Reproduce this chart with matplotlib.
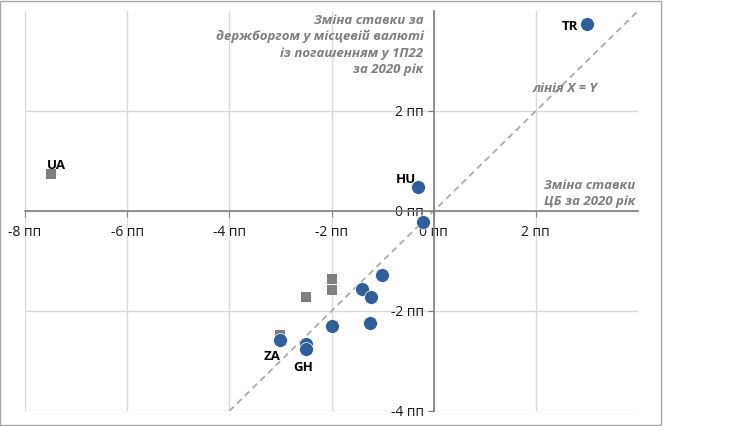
import matplotlib.pyplot as plt
from matplotlib.patches import Rectangle

plt.rcParams['font.family'] = ['Open Sans', 'DejaVu Sans']

# central bank rate change (x) vs local-currency gov bond yield change (y), pp
circle_x = [3.0, -0.30, -0.21, -1.01, -1.40, -1.23, -1.25, -1.99, -2.50, -2.50, -3.00]
circle_y = [3.74, 0.49, -0.21, -1.27, -1.55, -1.71, -2.23, -2.29, -2.65, -2.75, -2.58]
square_x = [-2.0, -2.0, -2.49, -3.0, -7.49]
square_y = [-1.35, -1.58, -1.71, -2.47, 0.75]

# labelled countries: (name, x, y, dx, dy, ha) offsets in points
labels = [
    ('TR', 3.0, 3.74, -6, -2, 'right'),
    ('HU', -0.30, 0.49, -2, 5, 'right'),
    ('UA', -7.49, 0.75, -3, 6, 'left'),
    ('ZA', -3.0, -2.58, 0, -12, 'right'),
    ('GH', -2.5, -2.75, -2, -14, 'center'),
]

ticks = [-8, -6, -4, -2, 0, 2]
yticks = [-4, -2, 0, 2]

blue = '#2F5E98'
gray = '#7F7F7F'

fig = plt.figure(figsize=(7.4, 4.26), dpi=100)
ax = fig.add_axes([25 / 740, 15 / 426, 613 / 740, 400 / 426])

ax.set_xlim(-8, 4)
ax.set_ylim(-4, 4)

ax.grid(True, color='#D9D9D9', linewidth=1)
ax.set_axisbelow(True)

# x = y line
ax.plot([-4, 4], [-4, 4], linestyle=(0, (3.5, 2.5)), color='#ABABAB',
        linewidth=1.3, zorder=2)

ax.scatter(square_x, square_y, marker='s', s=50, color=gray, zorder=3, linewidths=0)
ax.scatter(circle_x, circle_y, marker='o', s=100, color=blue, zorder=4,
           edgecolors='white', linewidths=0.5)

for name, x, y, dx, dy, ha in labels:
    ax.annotate(name, (x, y), xytext=(dx, dy), textcoords='offset points',
                ha=ha, va='center', fontsize=9.5, fontweight='bold', color='black')

for side in ['top', 'right']:
    ax.spines[side].set_visible(False)
ax.spines['left'].set_position(('data', 0))
ax.spines['bottom'].set_position(('data', 0))
for side in ['left', 'bottom']:
    ax.spines[side].set_color('#7F7F7F')
    ax.spines[side].set_linewidth(1.2)

ax.set_xticks(ticks)
ax.set_xticklabels([f'{t} пп' for t in ticks])
ax.set_yticks(yticks)
ax.set_yticklabels([f'{t} пп' for t in yticks])
ax.tick_params(axis='both', direction='out', length=4, color='#7F7F7F',
               labelsize=10, labelcolor='#1A1A1A', pad=3)
ax.tick_params(axis='x', pad=6)

ann = dict(fontsize=9.5, style='italic', fontweight='bold', color='#7F7F7F')
ax.text(-0.2, 3.95,
        'Зміна ставки за\nдержборгом у місцевій валюті\nіз погашенням у 1П22\nза 2020 рік',
        ha='right', va='top', linespacing=1.35, **ann)
ax.text(3.2, 2.45, 'лінія X = Y', ha='right', va='center', **ann)
ax.text(3.95, 0.05, 'Зміна ставки\nЦБ за 2020 рік', ha='right', va='bottom',
        linespacing=1.35, **ann)

# outer chart frame
fig.patches.append(Rectangle((0, 1 / 426), 661 / 740, 425 / 426 - 1 / 426,
                             transform=fig.transFigure, fill=False,
                             edgecolor='#A6A6A6', linewidth=1))

fig.savefig('out.png', dpi=100)
